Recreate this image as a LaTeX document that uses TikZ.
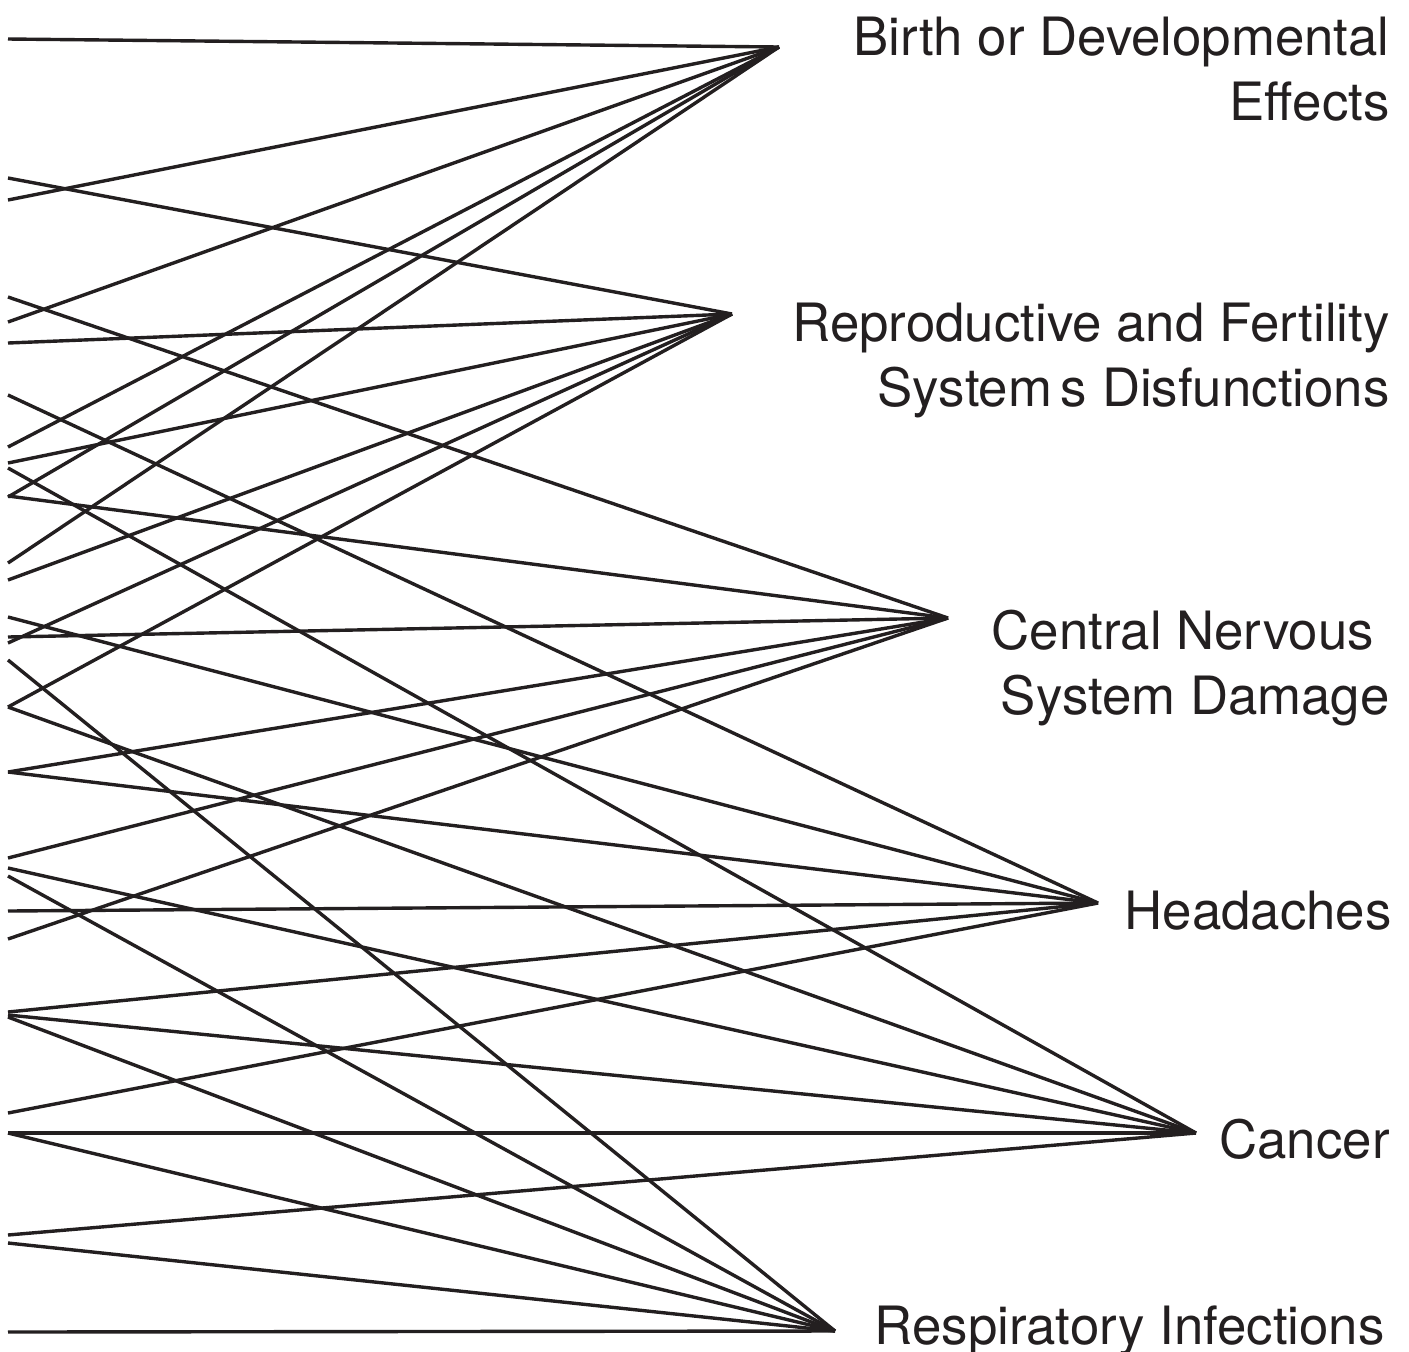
\documentclass[tikz,border=0pt]{standalone}
\usepackage{fontspec}
\setmainfont{TeX Gyre Heros}
\usetikzlibrary{positioning}
\definecolor{ink}{HTML}{231F20}
\tikzset{link/.style={draw=ink,line width=1.7pt},
 effect/.style={anchor=base east,align=right,inner sep=0pt,text=ink,
 font=\fontsize{26.4}{32.5}\selectfont}}

\begin{document}
\begin{tikzpicture}[x=0.5pt,y=-0.5pt]
\useasboundingbox (0,0) rectangle (1409,1351);
% hubs where the lines meet
\coordinate (birth) at (779,47);
\coordinate (repro) at (732,314);
\coordinate (cns) at (948,618);
\coordinate (head) at (1098,903);
\coordinate (cancer) at (1196,1133);
\coordinate (resp) at (835,1331);
\node[effect] (birthtxt) at (1390,120) {Birth or Developmental\\Effects};
\node[effect] (reprotxt) at (1390,406) {Reproductive and Fertility\\System\,s Disfunctions};
\node[effect] (cnstxt) at (1390,714) {Central Nervous\hspace*{0.3em}\\System Damage};
\node[effect] (headtxt) at (1392,929) {Headaches};
\node[effect] (cancertxt) at (1390,1158) {Cancer};
\node[effect] (resptxt) at (1385,1344) {Respiratory Infections};
% lines from the left edge
\foreach \y in {39,200,322,447,497,563}{\coordinate (b-\y) at (8,\y); \draw[link] (b-\y)--(birth);}
\foreach \y in {178,343,463,580,643,707}{\coordinate (r-\y) at (8,\y); \draw[link] (r-\y)--(repro);}
\foreach \y in {297,496,637,772,858,939}{\coordinate (n-\y) at (8,\y); \draw[link] (n-\y)--(cns);}
\foreach \y in {395,617,772,911,1012,1113}{\coordinate (h-\y) at (8,\y); \draw[link] (h-\y)--(head);}
\foreach \y in {468,707,868,1015,1133,1235}{\coordinate (c-\y) at (8,\y); \draw[link] (c-\y)--(cancer);}
\foreach \y in {660,876,1017,1133,1243,1332}{\coordinate (p-\y) at (8,\y); \draw[link] (p-\y)--(resp);}
\end{tikzpicture}
\end{document}
